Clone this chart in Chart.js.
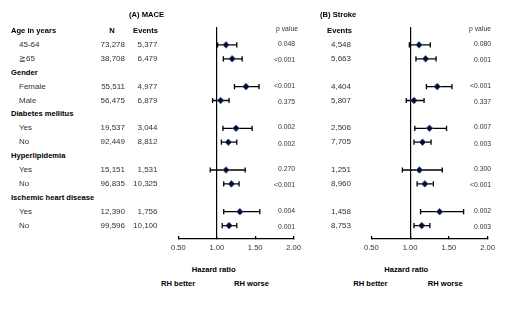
<!DOCTYPE html>
<html>
<head>
<title>Forest plot</title>
<script src="https://cdn.jsdelivr.net/npm/chart.js"></script>
<style>
  body { margin: 0; background: #fff; font-family: "Liberation Sans", Arial, sans-serif; }
  #wrap { position: relative; width: 510px; height: 329px; overflow: hidden; }
  .t { position: absolute; white-space: nowrap; height: 10px; line-height: 10px; }
  .b { font-weight: bold; font-size: 7.6px; color: #000; }
  .n { font-size: 8px; color: #333; }
  .p { font-size: 6.8px; color: #333; }
  canvas { position: absolute; }
</style>
</head>
<body>
<div id="wrap">
  <canvas id="chartA" width="144" height="240" style="left:164px;top:17px"></canvas>
  <canvas id="chartB" width="145" height="240" style="left:357px;top:17px"></canvas>
</div>
<script>
// data
var groups = ["Age in years", "Gender", "Diabetes mellitus", "Hyperlipidemia", "Ischemic heart disease"];
var subgroups = ["45-64", "\u226765", "Female", "Male", "Yes", "No", "Yes", "No", "Yes", "No"];
var nTotal = ["73,278", "38,708", "55,511", "56,475", "19,537", "92,449", "15,151", "96,835", "12,390", "99,596"];

var maceEvents = ["5,377", "6,479", "4,977", "6,879", "3,044", "8,812", "1,531", "10,325", "1,756", "10,100"];
var maceHR = [1.12, 1.20, 1.38, 1.05, 1.25, 1.15, 1.12, 1.19, 1.30, 1.16];
var maceLo = [1.01, 1.085, 1.23, 0.945, 1.08, 1.06, 0.915, 1.09, 1.09, 1.07];
var maceHi = [1.26, 1.33, 1.55, 1.16, 1.46, 1.26, 1.37, 1.29, 1.56, 1.26];
var maceP = ["0.048", "<0.001", "<0.001", "0.375", "0.002", "0.002", "0.270", "<0.001", "0.004", "0.001"];

var strokeEvents = ["4,548", "5,663", "4,404", "5,807", "2,506", "7,705", "1,251", "8,960", "1,458", "8,753"];
var strokeHR = [1.115, 1.20, 1.35, 1.05, 1.25, 1.16, 1.12, 1.19, 1.38, 1.15];
var strokeLo = [0.99, 1.075, 1.21, 0.95, 1.06, 1.05, 0.90, 1.09, 1.135, 1.05];
var strokeHi = [1.26, 1.335, 1.54, 1.18, 1.47, 1.27, 1.415, 1.30, 1.69, 1.255];
var strokeP = ["0.080", "0.001", "<0.001", "0.337", "0.007", "0.003", "0.300", "<0.001", "0.002", "0.003"];

var xTickValues = [0.5, 1.0, 1.5, 2.0];
var xTickLabels = ["0.50", "1.00", "1.50", "2.00"];

// layout of the rows
var ROW0 = 31, ROWH = 13.9;
function rowY(i) { return ROW0 + ROWH * i; }
function subRow(k) { return 3 * Math.floor(k / 2) + 1 + (k % 2); }

var wrap = document.getElementById("wrap");
function put(text, x, y, cls, align) {
  var d = document.createElement("div");
  d.className = "t " + cls;
  d.textContent = text;
  d.style.top = (y - 5) + "px";
  if (align === "r") {
    d.style.left = (x - 200) + "px"; d.style.width = "200px"; d.style.textAlign = "right";
  } else if (align === "c") {
    d.style.left = (x - 100) + "px"; d.style.width = "200px"; d.style.textAlign = "center";
  } else {
    d.style.left = x + "px";
  }
  wrap.appendChild(d);
}

put("(A) MACE", 129, 15, "b");
put("(B) Stroke", 320, 15, "b");
put("N", 112, rowY(0), "b", "c");
put("Events", 158, rowY(0), "b", "r");
put("Events", 352, rowY(0), "b", "r");
put("p value", 287, 29, "p", "c");
put("p value", 480, 29, "p", "c");

groups.forEach(function (g, i) { put(g, 11, rowY(3 * i), "b"); });
subgroups.forEach(function (s, k) {
  var y = rowY(subRow(k));
  var py = y + (k % 2 ? 1.5 : -1);
  put(s, 19, y, "n");
  put(nTotal[k], 125, y, "n", "r");
  put(maceEvents[k], 157.5, y, "n", "r");
  put(strokeEvents[k], 351, y, "n", "r");
  put(maceP[k], 295, py, "p", "r");
  put(strokeP[k], 491, py, "p", "r");
});

put("Hazard ratio", 191.7, 269.5, "b");
put("Hazard ratio", 384.3, 269.5, "b");
put("RH better", 161, 283.5, "b");
put("RH worse", 234, 283.5, "b");
put("RH better", 353.3, 283.5, "b");
put("RH worse", 427.7, 283.5, "b");

function makeForest(id, hr, lo, hi) {
  var datasets = [{
    label: "HR",
    data: hr.map(function (v, k) { return { x: v, y: subRow(k) }; }),
    showLine: false,
    pointStyle: "rectRot",
    pointRadius: 3.3,
    pointBackgroundColor: "#0b0b20",
    pointBorderColor: "#3a5fa8",
    pointBorderWidth: 0.9,
    order: 0
  }];
  hr.forEach(function (v, k) {
    datasets.push({
      label: "CI " + k,
      data: [{ x: lo[k], y: subRow(k) }, { x: hi[k], y: subRow(k) }],
      showLine: true,
      borderColor: "#000",
      borderWidth: 1.3,
      pointStyle: "line",
      rotation: 90,
      pointRadius: 2.6,
      pointBorderColor: "#000",
      pointBorderWidth: 1.3,
      order: 1
    });
  });

  return new Chart(document.getElementById(id), {
    type: "scatter",
    data: { datasets: datasets },
    options: {
      responsive: false,
      animation: false,
      devicePixelRatio: 1,
      events: [],
      layout: { padding: { left: 10, right: 10, top: 10, bottom: 2 } },
      plugins: { legend: { display: false }, tooltip: { enabled: false } },
      scales: {
        x: {
          type: "linear",
          min: 0.5,
          max: 2.0,
          afterBuildTicks: function (scale) {
            scale.ticks = xTickValues.map(function (v) { return { value: v }; });
          },
          afterFit: function (scale) { scale.height = 16; },
          ticks: {
            padding: 7,
            maxRotation: 0,
            color: "#333",
            font: { family: "'Liberation Sans', Arial, sans-serif", size: 7.6 },
            callback: function (value) {
              var i = xTickValues.indexOf(value);
              return i >= 0 ? xTickLabels[i] : "";
            }
          },
          grid: {
            color: function (ctx) {
              return ctx.tick && ctx.tick.value === 1 ? "#000" : "rgba(0,0,0,0)";
            },
            lineWidth: 1.2,
            tickColor: "#000",
            tickWidth: 1.3,
            tickLength: -3
          },
          border: { display: true, color: "#000", width: 1.3 }
        },
        y: {
          type: "linear",
          display: false,
          reverse: true,
          min: (27 - ROW0) / ROWH,
          max: (239 - ROW0) / ROWH
        }
      }
    }
  });
}

makeForest("chartA", maceHR, maceLo, maceHi);
makeForest("chartB", strokeHR, strokeLo, strokeHi);
</script>
</body>
</html>
